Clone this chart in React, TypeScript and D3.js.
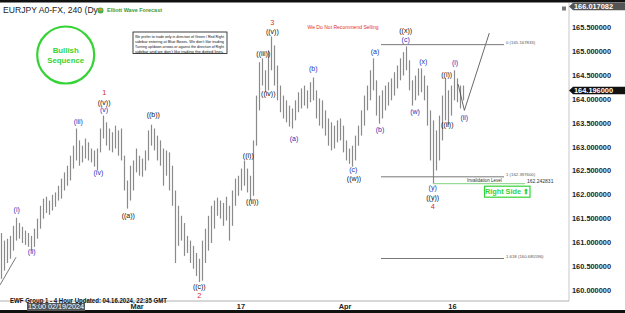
import React from 'react';
import * as d3 from 'd3';

// 4-hour bars (high / low)
const highs = [
  161.21, 161.05, 161.09, 161.15, 161.36, 161.53, 161.42, 161.34, 161.26, 161.21,
  161.15, 161.30, 161.51, 161.78, 161.93, 161.97, 161.89, 162.01, 162.06, 162.20,
  162.35, 162.48, 162.62, 162.83, 163.04, 163.40, 163.15, 163.04, 163.19, 163.11,
  162.98, 162.94, 162.98, 163.40, 163.67, 163.53, 163.40, 163.32, 163.46, 163.36,
  163.40, 162.83, 162.31, 162.62, 162.73, 162.98, 162.83, 162.77, 162.94, 163.36,
  163.48, 163.40, 163.25, 163.15, 162.98, 162.94, 162.90, 162.62, 162.10, 161.78,
  161.57, 161.42, 161.15, 161.05, 160.94, 160.79, 160.67, 161.05, 161.30, 161.57,
  161.78, 161.89, 161.95, 161.89, 161.84, 161.97, 161.78, 162.10, 162.35, 162.41,
  162.56, 162.73, 162.56, 162.41, 163.15, 164.09, 164.79, 164.87, 164.62, 165.04,
  165.33, 165.14, 164.72, 164.30, 164.09, 163.99, 163.88, 163.82, 163.99, 164.16,
  164.24, 164.30, 164.20, 164.37, 164.47, 164.20, 164.03, 163.99, 163.78, 163.61,
  163.53, 163.46, 163.57, 163.61, 163.46, 163.15, 162.98, 163.04, 163.25, 163.46,
  163.78, 164.09, 164.30, 164.62, 164.87, 164.41, 164.09, 164.20, 164.30, 164.37,
  164.45, 164.58, 164.72, 164.87, 165.00, 165.12, 164.83, 164.41, 164.51, 164.66,
  164.66, 164.51, 164.30, 163.78, 163.57, 163.36, 163.67, 164.09, 164.45, 164.20,
  164.30, 164.62, 164.45, 164.30, 164.30,
];
const lows = [
  160.25, 160.42, 160.58, 160.67, 160.84, 161.05, 161.09, 161.00, 160.96, 160.92,
  160.84, 160.92, 161.09, 161.30, 161.51, 161.63, 161.59, 161.68, 161.76, 161.89,
  161.93, 162.10, 162.20, 162.31, 162.56, 162.73, 162.62, 162.69, 162.77, 162.73,
  162.69, 162.60, 162.52, 162.90, 163.19, 163.04, 162.94, 162.90, 162.98, 162.83,
  162.73, 162.10, 161.72, 161.89, 162.10, 162.48, 162.41, 162.39, 162.52, 162.73,
  163.04, 162.94, 162.73, 162.62, 162.20, 162.41, 162.10, 161.78, 160.58, 160.94,
  161.05, 160.73, 160.79, 160.58, 160.46, 160.31, 160.18, 160.21, 160.58, 160.84,
  161.00, 161.30, 161.57, 161.51, 161.36, 161.47, 161.05, 161.36, 161.78, 161.99,
  162.10, 162.20, 162.06, 161.89, 161.99, 163.04, 163.78, 164.30, 164.16, 164.20,
  164.62, 164.30, 163.99, 163.74, 163.61, 163.53, 163.44, 163.40, 163.57, 163.74,
  163.82, 163.88, 163.82, 163.95, 163.99, 163.61, 163.46, 163.40, 163.25, 163.04,
  162.94, 162.98, 163.11, 163.15, 162.90, 162.73, 162.66, 162.60, 162.73, 163.04,
  163.25, 163.46, 163.78, 163.99, 164.20, 163.67, 163.50, 163.61, 163.78, 163.88,
  163.99, 164.09, 164.24, 164.41, 164.51, 164.62, 164.20, 163.88, 163.99, 164.09,
  164.16, 163.99, 163.46, 162.73, 162.25, 162.52, 162.73, 163.15, 163.57, 163.48,
  163.67, 163.99, 163.95, 163.82, 163.99,
];

const priceTicks = [160, 160.5, 161, 161.5, 162, 162.5, 163, 163.5, 164, 164.5, 165, 165.5];
const timeLabels = ['Mar', '17', 'Apr', '16'];
const timeAt = [45.2, 79.8, 114.5, 150.3];

const lastPrice = 164.196;
const topPrice = 166.017082;

// wave labels: text, bar index, price, kind
const waveText = ['1', '((v))', '(v)', '(iii)', '(iv)', '((b))', '(i)', '(ii)', '((a))', '((c))', '2',
  '3', '((v))', '((iii))', '((iv))', '(b)', '(a)', '((x))', '(c)', '(a)', '((i))', '((ii))', '(b)',
  '(c)', '((w))', '(w)', '(x)', '((i))', '(i)', '((ii))', '(ii)', '(y)', '((y))', '4'];
const waveIdx = [34.3, 34.2, 34.2, 25.6, 32.3, 50.6, 5.07, 10.07, 42.27, 65.93, 65.93,
  90.27, 90.27, 87.27, 88.93, 103.93, 124.5, 134.73, 134.73, 97.5, 82.27, 83.6, 126.17,
  117.27, 117.5, 137.83, 140.6, 148.4, 151.17, 148.6, 154.27, 143.73, 143.73, 143.73];
const wavePrice = [164.15, 163.93, 163.78, 163.54, 162.46, 163.68, 161.69, 160.80, 161.57, 160.07, 159.89,
  165.60, 165.42, 164.96, 164.12, 164.64, 165.00, 165.43, 165.25, 163.18, 162.83, 161.85, 163.37,
  162.52, 162.34, 163.74, 164.79, 164.52, 164.77, 163.47, 163.61, 162.15, 161.95, 161.75];
const waveKind = ['r', 'k', 'b', 'b', 'b', 'k', 'b', 'b', 'k', 'k', 'r',
  'r', 'k', 'k', 'k', 'b', 'b', 'k', 'b', 'b', 'k', 'k', 'b',
  'b', 'k', 'b', 'b', 'k', 'b', 'k', 'b', 'b', 'k', 'r'];

// fibonacci levels
const fibNames = ['0', '1', '1.618'];
const fibValues = [165.167833, 162.3976, 160.685596];
const fibFrom = 126.5;
const fibTo = 167.5;
const invalidation = 162.242831;
const invFrom = 143.8;
const invTo = 174.5;

// drawn projection / trend lines [bar index, price]
const projection: [number, number][] = [[152.2, 164.33], [154.3, 163.78], [162.6, 165.40]];
const trendStart: [number, number][] = [[-0.5, 160.12], [4.83, 160.70]];

const disclaimer = [
  'We prefer to trade only in direction of Green / Red Right',
  'sidebar entering at Blue Boxes. We don\u2019t like trading',
  'Turning up/down arrows or against the direction of Right',
  'sidebar and we don\u2019t like trading the dotted lines.',
];

const FONT = '"Liberation Sans", Arial, sans-serif';
const W = 625;
const H = 313;
const plotRight = 569;
const plotBottom = 301;

export default function App() {
  const x = d3.scaleLinear().domain([0, highs.length - 1]).range([1.5, 463.5]);
  const y = d3.scaleLinear().domain([160, 165.5]).range([290.7, 28.3]);
  const line = d3.line<[number, number]>().x((d) => x(d[0])).y((d) => y(d[1]));
  const kindColor: Record<string, string> = { r: '#d42a2a', k: '#111', b: '#2430b8' };
  const green = '#35d335';

  return (
    <svg width={W} height={H} style={{ position: 'fixed', left: 0, top: 0, fontFamily: FONT }}>
      <rect x={0} y={0} width={W} height={H} fill="#fff" />
      {/* bars */}
      <g stroke="#8a8a8a" strokeWidth={1.2}>
        {highs.map((h, i) => (
          <line key={i} x1={x(i)} x2={x(i)} y1={y(h)} y2={y(lows[i])} />
        ))}
      </g>
      {/* trend lines */}
      <path d={line(trendStart) || ''} stroke="#555" strokeWidth={0.8} fill="none" />
      <path d={line(projection) || ''} stroke="#444" strokeWidth={0.8} fill="none" />
      {/* fib levels */}
      {fibValues.map((v, i) => (
        <g key={i}>
          <line x1={x(fibFrom)} x2={x(fibTo)} y1={y(v) + 0.5} y2={y(v) + 0.5} stroke="#777" strokeWidth={1} />
          <text x={x(fibTo) + 2} y={y(v) - 1} fontSize={4.3} fill="#555" dominantBaseline="middle">
            {`${fibNames[i]} (${v.toFixed(6)})`}
          </text>
        </g>
      ))}
      <line x1={x(invFrom)} x2={x(invTo)} y1={y(invalidation)} y2={y(invalidation)} stroke="#7fd07f" strokeWidth={1} />
      <text x={467} y={y(invalidation) - 2.5} fontSize={4.5} fill="#333" dominantBaseline="middle">Invalidation Level</text>
      <text x={527} y={y(invalidation) - 2} fontSize={5} fill="#333" dominantBaseline="middle">{invalidation.toFixed(6)}</text>
      {/* Right side box */}
      <rect x={484.5} y={y(invalidation) + 2.5} width={45.5} height={11} fill="#fff" stroke={green} strokeWidth={1.2} />
      <text x={507} y={y(invalidation) + 8.3} fontSize={7.3} fontWeight="bold" fill={green} textAnchor="middle" dominantBaseline="middle">Right Side ⬆</text>
      {/* wave labels */}
      <g style={{ opacity: 0.99 }}>
        {waveText.map((t, i) => (
          <text key={i} x={x(waveIdx[i])} y={y(wavePrice[i])} fontSize={waveKind[i] === 'r' ? 7.4 : 7}
            fill={kindColor[waveKind[i]]} textAnchor="middle" dominantBaseline="middle">{t}</text>
        ))}
      </g>
      {/* Bullish sequence */}
      <circle cx={65.7} cy={55} r={28.5} fill="none" stroke={green} strokeWidth={2.2} />
      <text x={65.7} y={51} fontSize={7.8} fontWeight="bold" fill={green} textAnchor="middle" dominantBaseline="middle">Bullish</text>
      <text x={65.7} y={60.5} fontSize={7.8} fontWeight="bold" fill={green} textAnchor="middle" dominantBaseline="middle">Sequence</text>
      {/* disclaimer */}
      <rect x={133} y={32} width={94} height={21.5} fill="#fff" stroke="#111" strokeWidth={0.8} />
      {disclaimer.map((s, i) => (
        <text key={i} x={135} y={36.5 + i * 5} fontSize={4.2} fill="#111" dominantBaseline="middle" textLength={89} lengthAdjust="spacingAndGlyphs">{s}</text>
      ))}
      <text x={343} y={27} fontSize={6} fill="#e03030" textAnchor="middle" dominantBaseline="middle" textLength={71} lengthAdjust="spacingAndGlyphs">We Do Not Recommend Selling</text>
      {/* title */}
      <text x={3} y={11} fontSize={8.6} fill="#222" dominantBaseline="middle">EURJPY A0-FX, 240 (Dyn</text>
      <circle cx={100.5} cy={10.5} r={3} fill="#4caf50" />
      <path d="M98.5,10.5 A2,2 0 0 1 102.5,10.5" fill="#f39c12" />
      <text x={107} y={11} fontSize={4.8} fontWeight="bold" fill="#3a9a3a" dominantBaseline="middle" textLength={55} lengthAdjust="spacingAndGlyphs">Elliott Wave Forecast</text>
      {/* borders */}
      <line x1={plotRight} x2={plotRight} y1={3} y2={plotBottom} stroke="#c8c8c8" strokeWidth={1} />
      <line x1={0} x2={plotRight} y1={plotBottom} y2={plotBottom} stroke="#b0b0b0" strokeWidth={1} />
      <rect x={0} y={0} width={W} height={2.5} fill="#111" />
      <rect x={0} y={310} width={W} height={3} fill="#111" />
      {/* right axis */}
      {priceTicks.map((p) => (
        <text key={p} x={572} y={y(p)} fontSize={7.4} fontWeight="bold" fill="#222" dominantBaseline="middle">{p.toFixed(6)}</text>
      ))}
      <rect x={562} y={6.5} width={4} height={4} fill="#777" />
      <path d={`M569,${6.5} L573,2.7 L625,2.7 L625,10.3 L573,10.3 Z`} fill="#555" />
      <text x={574} y={6.7} fontSize={7.4} fontWeight="bold" fill="#fff" dominantBaseline="middle">{topPrice.toFixed(6)}</text>
      <path d={`M569,${y(lastPrice)} L573,${y(lastPrice) - 3.8} L625,${y(lastPrice) - 3.8} L625,${y(lastPrice) + 3.8} L573,${y(lastPrice) + 3.8} Z`} fill="#111" />
      <text x={574} y={y(lastPrice) + 0.3} fontSize={7.4} fontWeight="bold" fill="#fff" dominantBaseline="middle">{lastPrice.toFixed(6)}</text>
      {/* time axis */}
      {timeLabels.map((t, i) => (
        <text key={t} x={x(timeAt[i])} y={307} fontSize={7.4} fontWeight="bold" fill="#222" textAnchor="middle" dominantBaseline="middle">{t}</text>
      ))}
      <rect x={27} y={303} width={58} height={8} fill="#555" />
      <text x={56} y={307.2} fontSize={7.2} fill="#fff" textAnchor="middle" dominantBaseline="middle">15:00 02/19/2024</text>
      <text x={10} y={301.5} fontSize={6.5} fontWeight="bold" fill="#111" dominantBaseline="middle" textLength={157} lengthAdjust="spacingAndGlyphs">EWF Group 1 - 4 Hour Updated: 04.16.2024, 22:35 GMT</text>
    </svg>
  );
}
